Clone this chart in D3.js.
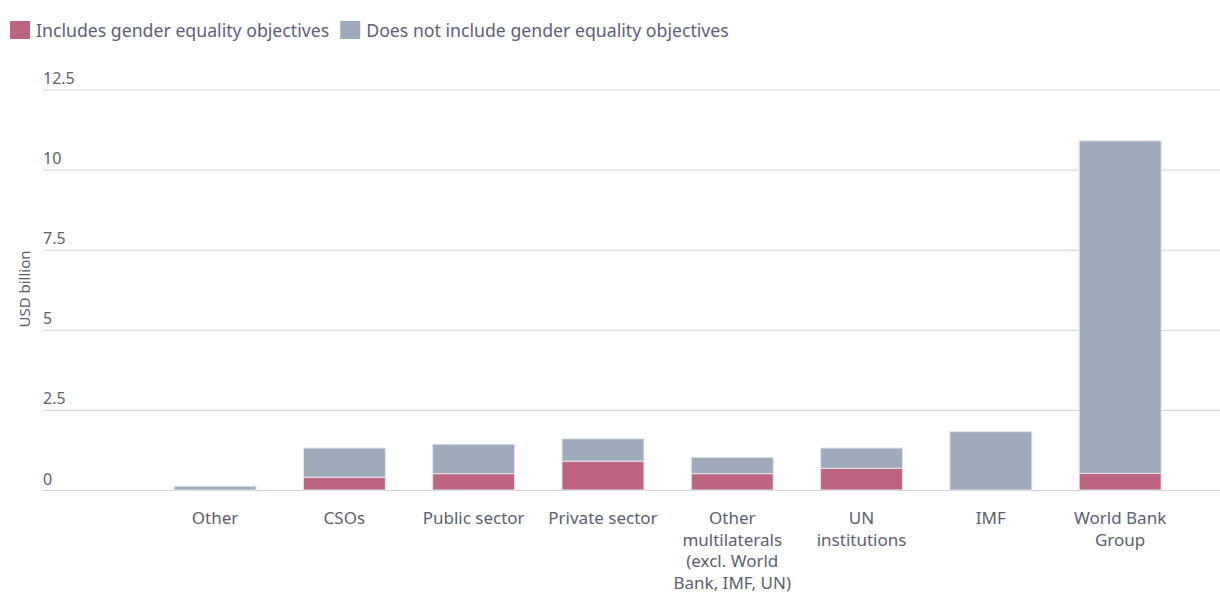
<!DOCTYPE html>
<html>
<head>
<meta charset="utf-8">
<script src="https://cdn.jsdelivr.net/npm/d3@7"></script>
<style>
  body { margin: 0; background: #fff; font-family: "Noto Sans", sans-serif; }
  .tick text { fill: #5b6070; }
</style>
</head>
<body>
<div id="chart"></div>
<script>
"use strict";

// categories and series (USD billion)
var categories = ["Other", "CSOs", "Public sector", "Private sector",
  "Other multilaterals (excl. World Bank, IMF, UN)", "UN institutions", "IMF", "World Bank Group"];
var labelLines = [["Other"], ["CSOs"], ["Public sector"], ["Private sector"],
  ["Other", "multilaterals", "(excl. World", "Bank, IMF, UN)"], ["UN", "institutions"], ["IMF"], ["World Bank", "Group"]];
var includesGender = [0, 0.40, 0.51, 0.90, 0.51, 0.68, 0, 0.52];
var notIncludeGender = [0.12, 0.91, 0.92, 0.70, 0.51, 0.63, 1.82, 10.38];
var seriesNames = ["Includes gender equality objectives", "Does not include gender equality objectives"];
var yTicks = [0, 2.5, 5, 7.5, 10, 12.5];

var colors = ["#bd6480", "#9faabd"];

var width = 1220, height = 593;

var svg = d3.select("#chart").append("svg")
    .attr("width", width)
    .attr("height", height);

var x = d3.scaleBand()
    .domain(categories)
    .range([150.4, 1184.8])
    .paddingInner(0.366)
    .paddingOuter(0.183);

var y = d3.scaleLinear()
    .domain([0, 12.5])
    .range([490, 89.5]);

// gridlines + tick labels
var yAxis = svg.append("g")
    .attr("transform", "translate(43,0)")
    .call(d3.axisRight(y).tickValues(yTicks).tickSize(1220 - 43)
      .tickFormat(function(d) { return d; }));
yAxis.select(".domain").remove();
yAxis.selectAll(".tick line").attr("stroke", "#ccd1dd").attr("stroke-width", 1);
yAxis.selectAll(".tick text")
    .attr("x", 0)
    .attr("dy", -6)
    .attr("text-anchor", "start")
    .style("font-family", "Noto Sans")
    .style("font-size", "16px");

// y title
svg.append("text")
    .attr("transform", "translate(30,289) rotate(-90)")
    .attr("text-anchor", "middle")
    .attr("fill", "#5b6070")
    .style("font-size", "15px")
    .text("USD billion");

// stacked bars
var rows = categories.map(function(c, i) {
  return { cat: c, inc: includesGender[i], notInc: notIncludeGender[i] };
});
var stack = d3.stack().keys(["inc", "notInc"]);
var layers = stack(rows);

svg.append("g").selectAll("g")
  .data(layers)
  .join("g")
    .attr("fill", function(d, i) { return colors[i]; })
  .selectAll("rect")
  .data(function(d) { return d.filter(function(p) { return p[1] - p[0] > 0; }); })
  .join("rect")
    .attr("x", function(d) { return x(d.data.cat); })
    .attr("width", x.bandwidth())
    .attr("y", function(d) { return y(d[1]); })
    .attr("height", function(d) { return y(d[0]) - y(d[1]); })
    .attr("stroke", "#e4e7ef")
    .attr("stroke-width", 1);

// x labels
var xl = svg.append("g").selectAll("text")
  .data(categories)
  .join("text")
    .attr("x", function(d) { return x(d) + x.bandwidth() / 2; })
    .attr("y", 524)
    .attr("text-anchor", "middle")
    .attr("fill", "#5b6070")
    .style("font-size", "17px");
xl.each(function(d, i) {
  var t = d3.select(this);
  labelLines[i].forEach(function(line, j) {
    t.append("tspan")
      .attr("x", x(d) + x.bandwidth() / 2)
      .attr("dy", j === 0 ? 0 : 21.7)
      .text(line);
  });
});

// legend
var legend = svg.append("g");
var lx = 10;
seriesNames.forEach(function(name, i) {
  legend.append("rect")
    .attr("x", lx).attr("y", 21)
    .attr("width", 20).attr("height", 18)
    .attr("fill", colors[i]);
  var t = legend.append("text")
    .attr("x", lx + 26).attr("y", 37)
    .attr("fill", "#5b6078")
    .style("font-size", "17.7px")
    .text(name);
  lx += 26 + t.node().getComputedTextLength() + 11;
});
</script>
</body>
</html>
